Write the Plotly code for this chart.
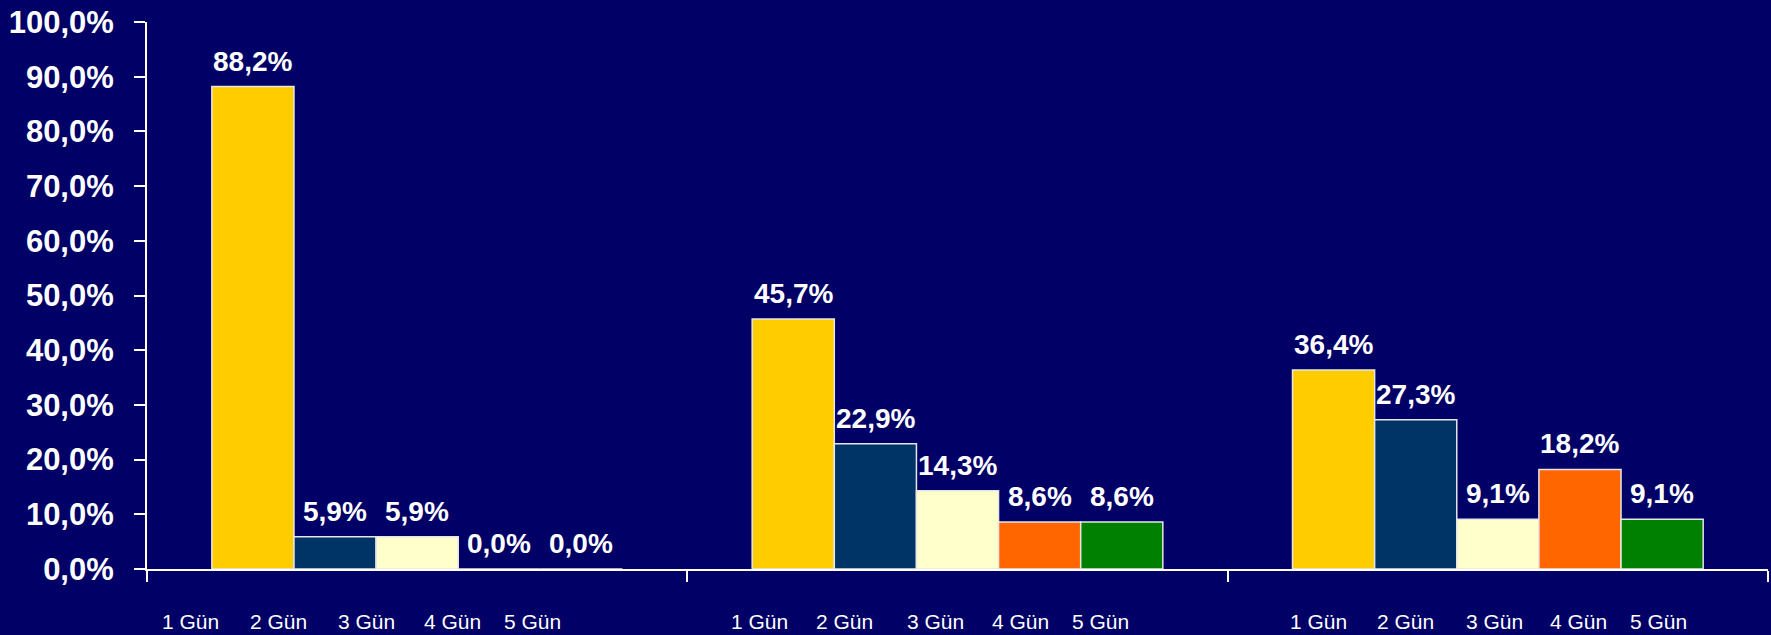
import plotly.graph_objects as go

groups = ["Grup 1", "Grup 2", "Grup 3"]
days = ["1 Gün", "2 Gün", "3 Gün", "4 Gün", "5 Gün"]
v_1gun = [88.2, 45.7, 36.4]
v_2gun = [5.9, 22.9, 27.3]
v_3gun = [5.9, 14.3, 9.1]
v_4gun = [0.0, 8.6, 18.2]
v_5gun = [0.0, 8.6, 9.1]
series = [v_1gun, v_2gun, v_3gun, v_4gun, v_5gun]
colors = ["#FFCC00", "#003366", "#FFFFCC", "#FF6600", "#008000"]
y_ticks = [0, 10, 20, 30, 40, 50, 60, 70, 80, 90, 100]
y_ticktext = [f"{v:.1f}".replace(".", ",") + "%" for v in y_ticks]

# label positions under each group (offset from group centre, in category units)
label_offsets = [
    [-0.419, -0.257, -0.093, 0.065, 0.213],
    [-0.366, -0.209, -0.041, 0.117, 0.265],
    [-0.331, -0.171, -0.007, 0.150, 0.298],
]

BG = "#000066"
BARGAP = 0.24
n = len(series)
bar_w = (1 - BARGAP) / n

fig = go.Figure()
annotations = []
for ti, (name, vals, col) in enumerate(zip(days, series, colors)):
    fig.add_trace(go.Bar(
        x=groups, y=vals, name=name,
        marker=dict(color=col, line=dict(color="#E6E6E6", width=1.5)),
    ))
    for gi, v in enumerate(vals):
        annotations.append(dict(
            x=gi + (ti - (n - 1) / 2) * bar_w, xref="x", y=v, yref="y",
            yshift=8, text=f"{v:.1f}".replace(".", ",") + "%",
            showarrow=False, xanchor="center", yanchor="bottom",
            font=dict(family="Liberation Sans", size=28, color="white", weight="bold"),
        ))

for gi, offs in enumerate(label_offsets):
    for d, off in zip(days, offs):
        annotations.append(dict(
            x=gi + off, xref="x", y=0, yref="paper", yshift=-52,
            text=d, showarrow=False, xanchor="center", yanchor="middle",
            font=dict(family="Liberation Sans", size=21, color="white"),
        ))

fig.update_layout(
    width=1771, height=635,
    paper_bgcolor=BG, plot_bgcolor=BG,
    margin=dict(l=147, r=3, t=22, b=66),
    barmode="group", bargap=BARGAP, bargroupgap=0,
    separators=",.",
    showlegend=False,
    annotations=annotations,
)
fig.update_xaxes(
    range=[-0.5, 2.5], showticklabels=False, showgrid=False,
    showline=True, linecolor="white", linewidth=2,
    ticks="outside", tickson="boundaries", ticklen=11, tickwidth=2, tickcolor="white",
    zeroline=False,
)
fig.update_yaxes(
    range=[0, 100], tickmode="array", tickvals=y_ticks, ticktext=y_ticktext,
    showgrid=False, zeroline=False,
    showline=True, linecolor="white", linewidth=2,
    ticks="outside", ticklen=11, tickwidth=2, tickcolor="white",
    ticklabelstandoff=14,
    tickfont=dict(family="Liberation Sans", size=31, color="white", weight="bold"),
)
fig.write_html(
    "out.html",
    config={"displayModeBar": False},
    post_script="document.body.style.margin='0';document.body.style.overflow='hidden';",
)
